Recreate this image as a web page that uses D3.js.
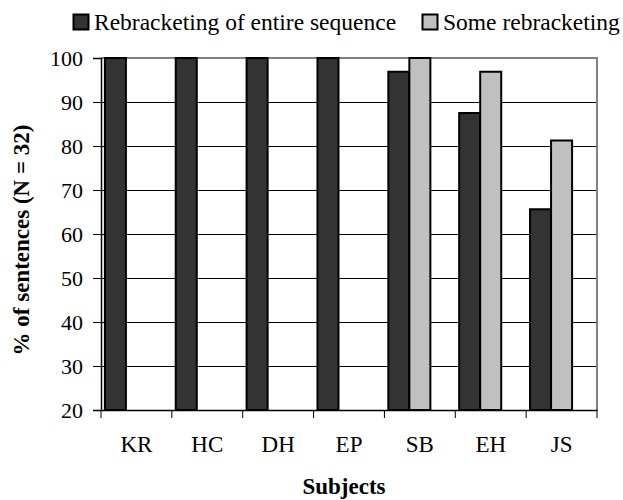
<!DOCTYPE html>
<html><head><meta charset="utf-8">
<script src="https://cdn.jsdelivr.net/npm/d3@7"></script>
<style>body{margin:0;background:#fff}svg{display:block}</style>
</head><body><svg id="c" width="623" height="500"></svg>
<script>
const categories = ["KR","HC","DH","EP","SB","EH","JS"];
const seriesNames = ["Rebracketing of entire sequence","Some rebracketing"];
const entireSequence = [100,100,100,100,96.875,87.5,65.625];
const someRebracketing = [null,null,null,null,100,96.875,81.25];
const yTicks = [20,30,40,50,60,70,80,90,100];
const seriesColors = ["#333333","#c0c0c0"];

const svg = d3.select("#c");
const font = "Liberation Serif";
const L=101, R=597, T=58, B=410;
const x = d3.scaleBand().domain(categories).range([L,R]).padding(0);
const y = d3.scaleLinear().domain([20,100]).range([B,T]);
const bw = x.bandwidth();
const inset = bw*0.055, barW = bw*0.89/3;
const x1 = d3.scaleBand().domain(seriesNames).range([inset, inset+2*barW]).padding(0);

// gridlines
svg.append("g").selectAll("line").data(yTicks.filter(t=>t>20&&t<100)).join("line")
  .attr("x1",L).attr("x2",R).attr("y1",d=>y(d)).attr("y2",d=>y(d))
  .attr("stroke","#000").attr("stroke-width",1).attr("shape-rendering","crispEdges");
// border top/right gray
svg.append("path").attr("d",`M${L},${T}H${R}V${B}`).attr("fill","none")
  .attr("stroke","#808080").attr("stroke-width",2);

const data = categories.map((c,i)=>({cat:c, vals:[entireSequence[i], someRebracketing[i]]}));
const g = svg.append("g").selectAll("g").data(data).join("g")
  .attr("transform",d=>`translate(${x(d.cat)},0)`);
g.selectAll("rect").data(d=>d.vals.map((v,j)=>({v, s:seriesNames[j], j})).filter(e=>e.v!=null))
  .join("rect")
  .attr("x",e=>x1(e.s)).attr("width",x1.bandwidth())
  .attr("y",e=>y(e.v)).attr("height",e=>B-y(e.v))
  .attr("fill",e=>seriesColors[e.j]).attr("stroke","#000").attr("stroke-width",2);

// y axis
const ya = svg.append("g").attr("transform",`translate(${L},0)`)
  .call(d3.axisLeft(y).tickValues(yTicks).tickSize(8).tickPadding(10));
ya.attr("font-family",font).attr("font-size",22);
ya.select(".domain").attr("stroke","#000").attr("stroke-width",1.5);
ya.selectAll(".tick line").attr("stroke","#000");
ya.selectAll("text").style("font-family",font).style("font-size","22px").attr("fill","#000");

// x axis
const xa = svg.append("g").attr("transform",`translate(0,${B})`)
  .call(d3.axisBottom(x).tickSize(0).tickPadding(26));
xa.attr("font-family",font).attr("font-size",23);
xa.select(".domain").attr("stroke","#000").attr("stroke-width",1.5);
xa.selectAll("text").style("font-family",font).style("font-size","23px").attr("fill","#000");
svg.append("g").selectAll("line").data(categories.concat(["_end"])).join("line")
  .attr("x1",(d,i)=>L+i*bw).attr("x2",(d,i)=>L+i*bw)
  .attr("y1",B).attr("y2",B+8).attr("stroke","#000").attr("stroke-width",1);

// axis titles
svg.append("text").attr("x",344).attr("y",494).attr("text-anchor","middle")
  .style("font-family",font).attr("font-weight","bold").style("font-size","23px").text("Subjects");
svg.append("text").attr("transform","translate(29,240) rotate(-90)").attr("text-anchor","middle")
  .style("font-family",font).attr("font-weight","bold").style("font-size","23px").text("% of sentences (N = 32)");

// legend
const legX = [73,422];
const lg = svg.append("g").selectAll("g").data(seriesNames).join("g")
  .attr("transform",(d,i)=>`translate(${legX[i]},14)`);
lg.append("rect").attr("width",15).attr("height",15).attr("x",0.5).attr("y",0.5)
  .attr("fill",(d,i)=>seriesColors[i]).attr("stroke","#000").attr("stroke-width",2);
lg.append("text").attr("x",21).attr("y",16).style("font-family",font).style("font-size","23.5px")
  .text(d=>d);
</script></body></html>
